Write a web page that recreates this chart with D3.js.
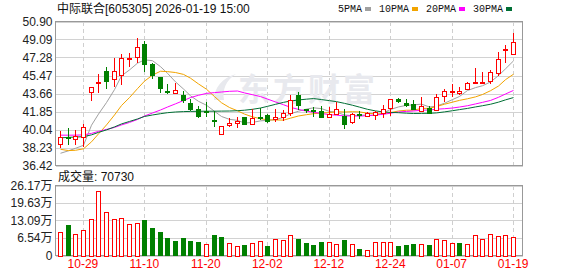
<!DOCTYPE html>
<html>
<head>
<meta charset="utf-8">
<script src="https://cdn.jsdelivr.net/npm/d3@7"></script>
<style>
  body { margin: 0; background: #fff; }
  svg { display: block; }
</style>
</head>
<body>
<div id="chart"></div>
<script>
// trading days shown (60 sessions)
const dates = ["10-24","10-27","10-28","10-29","10-30","10-31","11-03","11-04","11-05","11-06",
  "11-07","11-10","11-11","11-12","11-13","11-14","11-17","11-18","11-19","11-20",
  "11-21","11-24","11-25","11-26","11-27","11-28","12-01","12-02","12-03","12-04",
  "12-05","12-08","12-09","12-10","12-11","12-12","12-15","12-16","12-17","12-18",
  "12-19","12-22","12-23","12-24","12-25","12-26","12-29","12-30","12-31","01-05",
  "01-06","01-07","01-08","01-09","01-12","01-13","01-14","01-15","01-16","01-19"];

const opens = [38.55,39.30,39.05,39.25,43.84,44.70,45.92,45.08,45.52,47.10,
  47.30,48.64,46.63,45.29,43.92,43.68,43.51,42.67,42.07,41.95,
  41.02,39.59,40.53,40.66,41.26,40.60,41.30,41.50,41.10,41.33,
  41.73,43.51,42.10,41.97,41.93,41.33,41.57,41.40,40.83,41.60,
  41.43,41.50,41.73,42.17,43.11,42.67,42.57,41.93,42.17,42.00,
  43.44,43.85,43.68,44.14,44.68,44.78,44.95,45.69,48.00,47.63];
const highs = [39.92,40.17,39.99,40.59,44.32,45.63,46.36,47.26,47.63,47.70,
  49.21,48.97,46.76,45.30,44.61,44.68,43.91,43.07,42.40,42.84,
  41.93,40.40,41.23,41.34,41.34,42.07,42.17,41.57,42.07,42.00,
  43.51,43.84,42.12,42.27,42.40,42.27,42.84,42.07,41.73,41.93,
  41.83,41.93,42.50,43.11,43.21,43.07,43.01,43.27,42.40,43.61,
  44.11,44.61,44.35,44.81,46.19,45.85,46.02,47.80,48.54,49.78];
const lows = [38.15,38.45,38.48,38.31,42.94,43.69,44.11,44.35,44.51,46.36,
  46.76,45.79,45.12,43.74,43.61,43.61,42.67,41.93,41.20,41.34,
  40.26,39.58,40.26,40.22,40.46,40.53,40.99,40.73,40.83,40.90,
  41.40,42.00,41.73,41.33,41.26,41.23,41.50,40.06,40.60,41.06,
  41.26,40.99,41.23,41.40,42.74,42.27,42.00,41.83,41.60,41.93,
  42.84,43.27,43.51,44.01,44.66,44.61,44.61,45.42,46.76,47.53];
const closes = [39.25,39.15,39.39,40.26,44.28,44.86,44.95,45.92,47.20,47.20,
  48.30,46.59,45.52,44.18,43.85,44.01,43.01,42.10,41.40,41.90,
  40.95,40.39,40.66,40.90,40.56,41.23,41.20,40.90,41.26,41.73,
  43.01,42.50,41.97,41.90,41.33,41.60,42.07,40.60,41.57,41.55,
  41.67,41.83,42.07,43.11,42.88,42.47,42.07,42.40,41.67,43.34,
  43.91,43.95,43.91,44.68,44.81,44.85,45.85,47.10,48.10,48.80];

// volume in 万 (10k shares), and whether the bar is drawn as an up (red) day
const volumes = [8.7,11.3,8.2,9.7,13.5,24.0,16.1,13.8,14.2,11.7,
  12.1,13.2,10.2,8.7,6.4,5.3,6.4,5.3,4.9,4.4,
  7.5,6.8,4.8,3.6,3.8,4.8,5.3,3.4,6.3,5.7,
  7.8,6.0,4.7,3.8,5.0,5.0,4.2,5.7,4.2,2.6,
  2.1,4.9,4.9,4.9,3.4,3.8,4.2,4.2,3.8,6.3,
  5.7,4.5,4.5,4.2,7.8,6.3,8.2,7.4,7.8,7.07];
const volUp = [1,0,1,1,1,1,1,1,1,1,
  1,0,0,0,0,0,0,0,0,1,
  0,0,1,1,0,1,1,0,1,1,
  1,0,0,0,0,1,1,0,1,0,
  1,1,1,1,0,0,0,1,0,1,
  1,1,0,1,1,1,1,1,1,1];

// moving averages
const ma5 = [37.65,37.90,38.15,38.45,40.47,41.59,42.75,44.05,45.44,46.03,
  46.71,47.04,46.96,46.36,45.69,44.83,44.11,43.43,42.87,42.48,
  41.87,41.35,41.06,40.96,40.69,40.75,40.91,40.96,41.03,41.26,
  41.62,41.88,42.09,42.22,42.14,41.86,41.77,41.50,41.43,41.48,
  41.49,41.44,41.74,42.05,42.31,42.47,42.52,42.59,42.30,42.39,
  42.68,43.05,43.36,43.96,44.25,44.44,44.82,45.46,46.14,46.94];
const ma10 = [38.05,37.92,37.95,38.10,38.80,39.60,40.50,41.50,42.45,43.25,
  44.15,44.90,45.51,45.90,45.86,45.77,45.58,45.20,44.62,44.09,
  43.35,42.73,42.25,41.92,41.59,41.31,41.13,41.01,41.00,40.98,
  41.18,41.40,41.53,41.63,41.70,41.74,41.83,41.80,41.83,41.81,
  41.68,41.61,41.62,41.74,41.90,41.98,41.98,42.16,42.17,42.35,
  42.58,42.79,42.97,43.13,43.32,43.56,43.94,44.41,45.05,45.60];
const ma20 = [39.47,39.47,39.47,39.50,39.65,39.85,40.05,40.25,40.50,40.75,
  41.05,41.40,41.70,42.00,42.30,42.62,42.95,43.25,43.48,43.67,
  43.75,43.81,43.88,43.91,43.72,43.54,43.35,43.10,42.81,42.53,
  42.27,42.06,41.89,41.77,41.65,41.53,41.48,41.40,41.41,41.39,
  41.43,41.50,41.57,41.68,41.80,41.86,41.90,41.98,42.00,42.08,
  42.13,42.20,42.30,42.43,42.61,42.77,42.96,43.28,43.61,43.97];
const ma30 = [39.20,39.25,39.28,39.32,39.50,39.75,40.00,40.30,40.60,40.85,
  41.10,41.35,41.50,41.63,41.73,41.80,41.84,41.86,41.87,41.88,
  41.88,41.89,41.90,41.93,41.98,42.07,42.20,42.37,42.57,42.77,
  42.90,43.01,43.09,43.15,43.05,42.94,42.84,42.67,42.48,42.29,
  42.07,41.91,41.80,41.76,41.73,41.68,41.65,41.66,41.67,41.71,
  41.81,41.93,42.04,42.16,42.31,42.43,42.58,42.79,43.02,43.25];

const priceTicks = [36.42, 38.23, 40.04, 41.85, 43.66, 45.47, 47.28, 49.09, 50.90];
const volTicks = [0, 6.54, 13.09, 19.63, 26.17];
const dateTicks = ["10-29", "11-10", "11-20", "12-02", "12-12", "12-24", "01-07", "01-19"];

const maNames = ["5PMA", "10PMA", "20PMA", "30PMA"];
const maColors = ["#a0a0a0", "#f2a400", "#ff00ff", "#006f35"];
const title = "中际联合[605305] 2026-01-19 15:00";
const lastVolume = "70730";

const UP = "#ff0000";
const DOWN = "#008000";
const FONT = "'Liberation Sans', Arial, 'Noto Sans CJK SC', sans-serif";

const W = 578, H = 276;
const pricePanel = { left: 55.5, right: 522.5, top: 21.5, bottom: 165.5 };
const volPanel = { top: 185.5, bottom: 255.5 };

const svg = d3
  .select("#chart")
  .append("svg")
  .attr("width", W)
  .attr("height", H)
  .style("font-family", FONT);

svg.append("rect").attr("width", W).attr("height", H).attr("fill", "#fff");

const x = d3.scaleBand().domain(dates).range([56, 517]);
const cx = (d) => Math.round(x(d) + x.bandwidth() / 2);

const y = d3
  .scaleLinear()
  .domain([priceTicks[0], priceTicks[priceTicks.length - 1]])
  .range([pricePanel.bottom, pricePanel.top]);

const yVol = d3
  .scaleLinear()
  .domain([0, volTicks[volTicks.length - 1]])
  .range([volPanel.bottom, volPanel.top]);

// ---- grids ----
function grid(scale, ticks, top, bottom) {
  const g = svg.append("g").attr("shape-rendering", "crispEdges");
  g.selectAll("line.h")
    .data(ticks)
    .join("line")
    .attr("class", "h")
    .attr("x1", pricePanel.left)
    .attr("x2", pricePanel.right)
    .attr("y1", (d) => Math.round(scale(d)) + 0.5)
    .attr("y2", (d) => Math.round(scale(d)) + 0.5)
    .attr("stroke", "#d2d2d2");
  g.selectAll("line.v")
    .data(dateTicks)
    .join("line")
    .attr("class", "v")
    .attr("x1", (d) => cx(d) + 0.5)
    .attr("x2", (d) => cx(d) + 0.5)
    .attr("y1", top)
    .attr("y2", bottom)
    .attr("stroke", "#cfcfcf")
    .attr("stroke-dasharray", "4,3");
}
grid(y, priceTicks, pricePanel.top, pricePanel.bottom);
grid(yVol, volTicks, volPanel.top, volPanel.bottom);

// watermark
svg
  .append("text")
  .attr("x", 238)
  .attr("y", 101)
  .attr("font-family", "'Noto Sans CJK SC', sans-serif")
  .attr("font-size", 32)
  .attr("font-weight", "bold")
  .attr("letter-spacing", 3)
  .attr("fill", "#e8e9ee")
  .text("东方财富");
svg
  .append("path")
  .attr("d", "M214,100 C214,88 222,78 236,74 C226,80 222,90 224,100 Z")
  .attr("fill", "#e8e9ee");

// frames
[[pricePanel.top, pricePanel.bottom], [volPanel.top, volPanel.bottom]].forEach(([t, b]) => {
  svg
    .append("rect")
    .attr("x", pricePanel.left)
    .attr("y", t)
    .attr("width", pricePanel.right - pricePanel.left)
    .attr("height", b - t)
    .attr("fill", "none")
    .attr("stroke", "#999")
    .attr("shape-rendering", "crispEdges");
});

// ---- moving averages ----
[ma5, ma10, ma20, ma30].forEach((series, k) => {
  svg
    .append("path")
    .datum(series)
    .attr("fill", "none")
    .attr("stroke", maColors[k])
    .attr("stroke-width", 1)
    .attr(
      "d",
      d3
        .line()
        .x((d, i) => cx(dates[i]) + 0.5)
        .y((d) => y(d))
    );
});

// ---- candles ----
const candles = dates.map((d, i) => ({
  date: d,
  o: opens[i],
  h: highs[i],
  l: lows[i],
  c: closes[i],
}));

const cg = svg.append("g").attr("shape-rendering", "crispEdges");
candles.forEach((d) => {
  const xc = cx(d.date);
  const up = d.c >= d.o;
  const col = up ? UP : DOWN;
  const top = Math.round(y(Math.max(d.o, d.c)));
  const bot = Math.round(y(Math.min(d.o, d.c)));
  const hi = Math.round(y(d.h));
  const lo = Math.round(y(d.l));

  if (up) {
    cg.append("line").attr("x1", xc + 0.5).attr("x2", xc + 0.5).attr("y1", hi).attr("y2", top).attr("stroke", col);
    cg.append("line").attr("x1", xc + 0.5).attr("x2", xc + 0.5).attr("y1", bot).attr("y2", lo).attr("stroke", col);
    if (bot - top < 2) {
      cg.append("rect").attr("x", xc - 2).attr("y", top).attr("width", 5).attr("height", Math.max(bot - top, 1) + 1).attr("fill", col);
    } else {
      cg.append("rect")
        .attr("x", xc - 1.5)
        .attr("y", top + 0.5)
        .attr("width", 4)
        .attr("height", bot - top)
        .attr("fill", "#fff")
        .attr("stroke", col);
    }
  } else {
    cg.append("line").attr("x1", xc + 0.5).attr("x2", xc + 0.5).attr("y1", hi).attr("y2", lo).attr("stroke", col);
    cg.append("rect")
      .attr("x", xc - 2)
      .attr("y", top)
      .attr("width", 5)
      .attr("height", Math.max(bot - top, 1) + 1)
      .attr("fill", col);
  }
});

// ---- volume bars ----
svg
  .append("g")
  .attr("shape-rendering", "crispEdges")
  .selectAll("rect")
  .data(volumes)
  .join("rect")
  .attr("x", (d, i) => (volUp[i] ? cx(dates[i]) - 1.5 : cx(dates[i]) - 2))
  .attr("y", (d, i) => Math.round(yVol(d)) + (volUp[i] ? 0.5 : 0))
  .attr("width", (d, i) => (volUp[i] ? 4 : 5))
  .attr("height", (d, i) => Math.round(yVol(0)) - Math.round(yVol(d)) - (volUp[i] ? 0.5 : 0))
  .attr("fill", (d, i) => (volUp[i] ? "#fff" : DOWN))
  .attr("stroke", (d, i) => (volUp[i] ? UP : "none"));

// ---- axes ----
const yAxis = svg
  .append("g")
  .attr("transform", `translate(${pricePanel.left},0)`)
  .call(d3.axisLeft(y).tickValues(priceTicks).tickFormat(d3.format(".2f")).tickSize(0).tickPadding(3));

const volAxis = svg
  .append("g")
  .attr("transform", `translate(${pricePanel.left},0)`)
  .call(
    d3
      .axisLeft(yVol)
      .tickValues(volTicks)
      .tickFormat((d) => (d === 0 ? "0" : d.toFixed(2) + "万"))
      .tickSize(0)
      .tickPadding(3)
  );

const xAxis = svg
  .append("g")
  .attr("transform", `translate(0,${volPanel.bottom})`)
  .call(d3.axisBottom(x).tickValues(dateTicks).tickSize(0).tickPadding(4));

[yAxis, volAxis, xAxis].forEach((g) => {
  g.select(".domain").remove();
  g.selectAll("text").attr("font-family", FONT).attr("font-size", 12).attr("fill", "#222");
});
xAxis.selectAll("text").attr("fill", UP).attr("font-size", 12);

// ---- header & legend ----
svg
  .append("text")
  .attr("x", 57)
  .attr("y", 13)
  .attr("font-size", 12)
  .attr("fill", "#111")
  .text(title);

svg
  .append("text")
  .attr("x", 58)
  .attr("y", 181)
  .attr("font-size", 12)
  .attr("fill", "#111")
  .text("成交量: " + lastVolume);

let lx = 338;
maNames.forEach((name, k) => {
  const t = svg
    .append("text")
    .attr("x", lx)
    .attr("y", 12)
    .attr("font-family", "'Liberation Mono', monospace")
    .attr("font-size", 10)
    .attr("fill", "#111")
    .text(name);
  const w = t.node().getComputedTextLength();
  svg
    .append("rect")
    .attr("x", Math.round(lx + w + 3))
    .attr("y", 7)
    .attr("width", 6)
    .attr("height", 4)
    .attr("fill", maColors[k]);
  lx = Math.round(lx + w + 3 + 6 + 8);
});
</script>
</body>
</html>
